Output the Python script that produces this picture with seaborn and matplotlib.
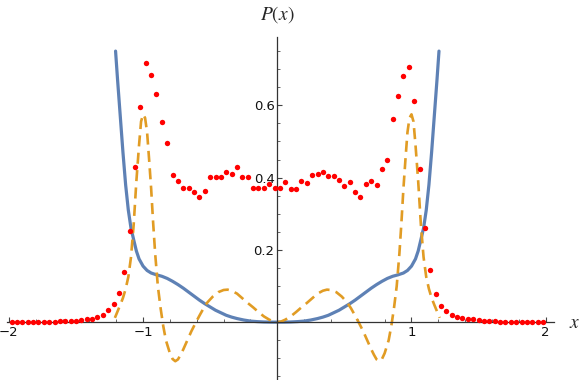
import numpy as np
import pandas as pd
import seaborn as sns
import matplotlib.pyplot as plt
from matplotlib.ticker import FixedLocator

# histogram dots: bin centres -1.98 ... 1.98
dot_x = np.round(np.arange(-1.98, 2.0, 0.04), 2)
dot_y = [0.0003, 0.0003, 0.0004, 0.0005, 0.0006, 0.0008, 0.001, 0.0012, 0.0015, 0.002,
         0.0025, 0.004, 0.0045, 0.005, 0.008, 0.009, 0.014, 0.019, 0.034, 0.049,
         0.080, 0.139, 0.253, 0.430, 0.595, 0.716, 0.683, 0.632, 0.553, 0.496,
         0.408, 0.390, 0.372, 0.372, 0.359, 0.347, 0.363, 0.401, 0.401, 0.401,
         0.416, 0.409, 0.429, 0.403, 0.403, 0.371, 0.371, 0.371, 0.381, 0.371,
         0.371, 0.389, 0.369, 0.369, 0.391, 0.384, 0.406, 0.409, 0.416, 0.405,
         0.405, 0.394, 0.376, 0.387, 0.359, 0.347, 0.383, 0.391, 0.379, 0.424,
         0.448, 0.563, 0.627, 0.682, 0.705, 0.612, 0.423, 0.260, 0.144, 0.077,
         0.045, 0.032, 0.020, 0.015, 0.011, 0.008, 0.008, 0.0055, 0.003, 0.003,
         0.002, 0.0015, 0.001, 0.001, 0.0008, 0.0006, 0.0005, 0.0004, 0.0003, 0.0003]

# solid blue curve
blue_x = [-1.205, -1.19, -1.17, -1.15, -1.13, -1.11, -1.09, -1.07, -1.05, -1.03,
          -1.00, -0.97, -0.94, -0.90, -0.86, -0.82, -0.78, -0.74, -0.70, -0.66,
          -0.62, -0.58, -0.54, -0.50, -0.46, -0.42, -0.38, -0.34, -0.30, -0.25,
          -0.20, -0.15, -0.10, -0.05, 0.0,
          0.05, 0.10, 0.15, 0.20, 0.25, 0.30, 0.34, 0.38, 0.42, 0.46,
          0.50, 0.54, 0.58, 0.62, 0.66, 0.70, 0.74, 0.78, 0.82, 0.86,
          0.90, 0.94, 0.97, 1.00, 1.03, 1.05, 1.07, 1.09, 1.11, 1.13,
          1.15, 1.17, 1.19, 1.205]
blue_y = [0.75, 0.67, 0.57, 0.47, 0.38, 0.31, 0.26, 0.228, 0.197, 0.175,
          0.155, 0.143, 0.136, 0.131, 0.127, 0.121, 0.113, 0.104, 0.094, 0.083,
          0.072, 0.061, 0.051, 0.042, 0.033, 0.026, 0.019, 0.014, 0.010, 0.006,
          0.003, 0.0015, 0.0005, 0.0001, 0.0,
          0.0001, 0.0005, 0.0015, 0.003, 0.006, 0.010, 0.014, 0.019, 0.026, 0.033,
          0.042, 0.051, 0.061, 0.072, 0.083, 0.094, 0.104, 0.113, 0.121, 0.127,
          0.131, 0.136, 0.143, 0.155, 0.175, 0.197, 0.228, 0.26, 0.31, 0.38,
          0.47, 0.57, 0.67, 0.75]

# dashed orange curve
orange_x = [-1.21, -1.19, -1.17, -1.15, -1.13, -1.11, -1.09, -1.07, -1.05, -1.03,
            -1.015, -1.00, -0.985, -0.97, -0.955, -0.94, -0.925, -0.91, -0.89, -0.87,
            -0.85, -0.83, -0.80, -0.78, -0.76, -0.74, -0.72, -0.70, -0.67, -0.64,
            -0.61, -0.58, -0.55, -0.52, -0.48, -0.44, -0.40, -0.37, -0.34, -0.30,
            -0.26, -0.22, -0.18, -0.14, -0.10, -0.06, -0.03, 0.0,
            0.03, 0.06, 0.10, 0.14, 0.18, 0.22, 0.26, 0.30, 0.34, 0.37,
            0.40, 0.44, 0.48, 0.52, 0.55, 0.58, 0.61, 0.64, 0.67, 0.70,
            0.72, 0.74, 0.76, 0.78, 0.80, 0.83, 0.85, 0.87, 0.89, 0.91,
            0.925, 0.94, 0.955, 0.97, 0.985, 1.00, 1.015, 1.03, 1.05, 1.07,
            1.09, 1.11, 1.13, 1.15, 1.17, 1.19, 1.21]
orange_y = [0.012, 0.03, 0.048, 0.067, 0.092, 0.125, 0.18, 0.27, 0.39, 0.49,
            0.555, 0.575, 0.565, 0.525, 0.45, 0.37, 0.275, 0.19, 0.10, 0.04,
            -0.01, -0.05, -0.086, -0.102, -0.108, -0.103, -0.09, -0.075, -0.05, -0.025,
            -0.003, 0.018, 0.038, 0.055, 0.071, 0.083, 0.089, 0.090, 0.087, 0.079,
            0.066, 0.053, 0.041, 0.028, 0.016, 0.007, 0.002, 0.0,
            0.002, 0.007, 0.016, 0.028, 0.041, 0.053, 0.066, 0.079, 0.087, 0.090,
            0.089, 0.083, 0.071, 0.055, 0.038, 0.018, -0.003, -0.025, -0.05, -0.075,
            -0.09, -0.103, -0.108, -0.102, -0.086, -0.05, -0.01, 0.04, 0.10, 0.19,
            0.275, 0.37, 0.45, 0.525, 0.565, 0.575, 0.555, 0.49, 0.39, 0.27,
            0.18, 0.125, 0.092, 0.067, 0.048, 0.03, 0.012]

x_major = [-2, -1, 1, 2]
x_labels = ["\u22122", "\u22121", "1", "2"]
x_minor = [-1.8, -1.6, -1.4, -1.2, -0.8, -0.6, -0.4, -0.2,
           0.2, 0.4, 0.6, 0.8, 1.2, 1.4, 1.6, 1.8]
y_major = [0.2, 0.4, 0.6]
y_labels = ["0.2", "0.4", "0.6"]
y_minor = [-0.15, -0.1, -0.05, 0.05, 0.1, 0.15, 0.25, 0.3, 0.35,
           0.45, 0.5, 0.55, 0.65, 0.7, 0.75]

sns.set_theme(style="white")
plt.rcParams['font.family'] = ['DejaVu Sans']
plt.rcParams['mathtext.fontset'] = 'stix'

fig = plt.figure(figsize=(5.81, 3.8), dpi=100)
ax = fig.add_axes([7 / 581, 0.0, (554 - 7) / 581, (380 - 37) / 380])

blue_df = pd.DataFrame({"x": blue_x, "y": blue_y})
orange_df = pd.DataFrame({"x": orange_x, "y": orange_y})
dots_df = pd.DataFrame({"x": dot_x, "y": dot_y})

sns.lineplot(data=blue_df, x="x", y="y", sort=False, color="#5E81B5", linewidth=2.3, ax=ax)
sns.lineplot(data=orange_df, x="x", y="y", sort=False, color="#E19C24", linewidth=1.9, ax=ax)
ax.lines[-1].set_dashes([4.2, 2.4])
sns.scatterplot(data=dots_df, x="x", y="y", color="#FF0000", s=15, linewidth=0, ax=ax, zorder=3)

ax.set_xlim(-2.014, 2.062)
ax.set_ylim(-0.160, 0.789)

for s in ["top", "right"]:
    ax.spines[s].set_visible(False)
ax.spines["left"].set_position(("data", 0))
ax.spines["bottom"].set_position(("data", 0))
for s in ["left", "bottom"]:
    ax.spines[s].set_color("#333333")
    ax.spines[s].set_linewidth(0.9)

ax.xaxis.set_major_locator(FixedLocator(x_major))
ax.set_xticklabels(x_labels)
ax.xaxis.set_minor_locator(FixedLocator(x_minor))
ax.yaxis.set_major_locator(FixedLocator(y_major))
ax.set_yticklabels(y_labels)
ax.yaxis.set_minor_locator(FixedLocator(y_minor))

ax.tick_params(axis="both", which="both", bottom=True, left=True, top=False, right=False)
ax.tick_params(axis="both", which="major", direction="in", length=3.5, width=0.8,
               color="#444444", labelsize=9.5, labelcolor="#111111")
ax.tick_params(axis="both", which="minor", direction="in", length=2.2, width=0.7, color="#666666")
ax.tick_params(axis="x", which="major", pad=3)
ax.tick_params(axis="y", which="major", pad=2)
ax.set_xlabel("")
ax.set_ylabel("")

fig.text(277 / 581, 1 - 15 / 380, "$P(x)$", ha="center", va="center", fontsize=14)
fig.text(575 / 581, 1 - 322 / 380, "$x$", ha="center", va="center", fontsize=14)

fig.savefig("out.png", dpi=100)
